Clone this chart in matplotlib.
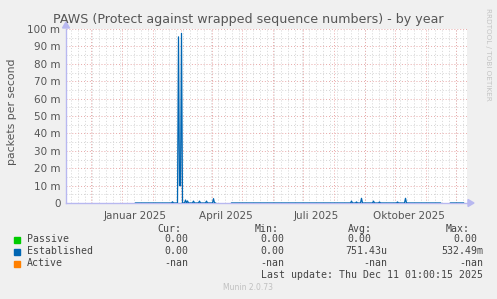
import matplotlib
matplotlib.use("Agg")
import matplotlib.pyplot as plt
import matplotlib.dates as mdates
import numpy as np
import pandas as pd

# ---------------- data ----------------
title = "PAWS (Protect against wrapped sequence numbers) - by year"
ylabel = "packets per second"
series_names = ["Passive", "Established", "Active"]
series_colors = ["#00cc00", "#0066b3", "#ff8000"]

# period with recorded data (daily resolution), and gaps without data
data_start = "2025-01-15"
data_end = "2025-12-09"
data_gaps = [("2025-04-06", "2025-04-20"), ("2025-11-17", "2025-11-25")]

# Established: non-zero days (packets per second)
est_dates = ["2025-02-21", "2025-02-27", "2025-02-28", "2025-03-01", "2025-03-02",
             "2025-03-06", "2025-03-08", "2025-03-14", "2025-03-20", "2025-03-27",
             "2025-04-03", "2025-08-19", "2025-08-24", "2025-08-29", "2025-09-10",
             "2025-09-16", "2025-10-04", "2025-10-12"]
est_values = [0.0007, 0.0955, 0.010, 0.010, 0.0975,
              0.0017, 0.0012, 0.0011, 0.0011, 0.0011,
              0.0025, 0.0011, 0.0006, 0.0027, 0.0011,
              0.0006, 0.0006, 0.0027]

yticks = [0, 0.01, 0.02, 0.03, 0.04, 0.05, 0.06, 0.07, 0.08, 0.09, 0.10]
ytick_labels = ["0", "10 m", "20 m", "30 m", "40 m", "50 m", "60 m", "70 m", "80 m", "90 m", "100 m"]
xtick_dates = ["2025-01-15", "2025-04-15", "2025-07-15", "2025-10-15"]
xtick_labels = ["Januar 2025", "April 2025", "Juli 2025", "Oktober 2025"]

legend_cur = ["0.00", "0.00", "-nan"]
legend_min = ["0.00", "0.00", "-nan"]
legend_avg = ["0.00", "751.43u", "-nan"]
legend_max = ["0.00", "532.49m", "-nan"]
last_update = "Last update: Thu Dec 11 01:00:15 2025"
footer = "Munin 2.0.73"

# ---------------- build series ----------------
days = pd.date_range(data_start, data_end, freq="D")
passive = pd.Series(0.0, index=days)
for g0, g1 in data_gaps:
    passive[g0:g1] = np.nan
established = passive.copy()
for d, v in zip(est_dates, est_values):
    established[pd.Timestamp(d)] = v

# ---------------- figure ----------------
W, H = 497, 299
fig = plt.figure(figsize=(W / 100, H / 100), dpi=100, facecolor="#f0f0f0")
L, R, T, B = 66, 467, 29, 203
ax = fig.add_axes([L / W, 1 - B / H, (R - L) / W, (B - T) / H])
ax.set_facecolor("white")

x0 = pd.Timestamp("2024-11-06 12:00")
x1 = pd.Timestamp("2025-12-12 12:00")
ax.set_xlim(x0, x1)
ax.set_ylim(0, 0.10)

for s in ax.spines.values():
    s.set_visible(False)

# grids
minor_c = "#d4d4d4"
major_c = "#e8a8a8"
dot = (0, (1, 2))
for yv in np.arange(0.005, 0.1, 0.01):
    ax.axhline(yv, color=minor_c, lw=0.7, ls=dot, zorder=1)
mondays = pd.date_range("2024-11-04", "2025-12-15", freq="W-MON")
for d in mondays:
    ax.axvline(d, color=minor_c, lw=0.7, ls=dot, zorder=1)
for yv in yticks[1:]:
    ax.axhline(yv, color=major_c, lw=0.7, ls=dot, zorder=2)
months = pd.date_range("2024-12-01", "2025-12-01", freq="MS")
for d in months:
    ax.axvline(d, color=major_c, lw=0.7, ls=dot, zorder=2)

# axis lines with arrows
axis_c = "#b8b8f0"
ax.plot([x0, x1], [0, 0], color=axis_c, lw=1.0, zorder=3, clip_on=False)
ax.plot([x0, x0], [0, 0.10], color=axis_c, lw=1.0, zorder=3, clip_on=False)
fig.patches.append(plt.Polygon([[(R + 1) / W, 1 - (B - 3.5) / H], [(R + 1) / W, 1 - (B + 3.5) / H],
                                [(R + 7) / W, 1 - B / H]], closed=True, transform=fig.transFigure,
                               color=axis_c))
fig.patches.append(plt.Polygon([[(L - 3.5) / W, 1 - (T - 1) / H], [(L + 3.5) / W, 1 - (T - 1) / H],
                                [L / W, 1 - (T - 7) / H]], closed=True, transform=fig.transFigure,
                               color=axis_c))

# data
ax.plot(passive.index, passive.values, color=series_colors[0], lw=0.8, zorder=4)
ax.plot(established.index, established.values, color=series_colors[1], lw=0.9, zorder=5)

# ticks
ax.set_yticks(yticks)
ax.set_yticklabels(ytick_labels)
ax.set_xticks([pd.Timestamp(d) for d in xtick_dates])
ax.set_xticklabels(xtick_labels)
ax.tick_params(axis="both", length=0, labelsize=7.5, colors="#555555", pad=4)
ax.tick_params(axis="x", pad=6)

# texts
fig.text(248 / W, 1 - 19 / H, title, ha="center", va="center", fontsize=9.1, color="#555555")
fig.text(12 / W, 1 - 112 / H, ylabel, ha="center", va="center", rotation=90, fontsize=7.8, color="#555555")
fig.text(488 / W, 1 - 8 / H, "RRDTOOL / TOBI OETIKER", ha="center", va="top", rotation=270,
         fontsize=5.2, color="#c4c4c4")

mono = "DejaVu Sans Mono"
fs = 7.1
tc = "#444444"

def put(x, y, s, ha="left", **kw):
    fig.text(x / W, 1 - y / H, s, ha=ha, va="center", fontsize=fs, family=mono, color=tc, **kw)

put(181, 228.5, "Cur:", ha="right")
put(278.5, 228.5, "Min:", ha="right")
put(372, 228.5, "Avg:", ha="right")
put(470, 228.5, "Max:", ha="right")

rows_y = [239.5, 251.5, 263.5]
for i, name in enumerate(series_names):
    y = rows_y[i]
    fig.patches.append(plt.Rectangle((14 / W, 1 - (y + 3) / H), 6 / W, 6 / H,
                                     transform=fig.transFigure, color=series_colors[i]))
    put(26.5, y, name)
    put(188, y, legend_cur[i], ha="right")
    put(284.5, y, legend_min[i], ha="right")
    if legend_avg[i][-1].isalpha():
        put(387, y, legend_avg[i], ha="right")
    else:
        put(371.5, y, legend_avg[i], ha="right")
    if legend_max[i][-1].isalpha():
        put(483, y, legend_max[i], ha="right")
    else:
        put(477, y, legend_max[i], ha="right")

put(483, 275.5, last_update, ha="right")
fig.text(248 / W, 1 - 288 / H, footer, ha="center", va="center", fontsize=5.5, color="#c0c0c0")

fig.savefig("out.png", dpi=100, facecolor=fig.get_facecolor())
